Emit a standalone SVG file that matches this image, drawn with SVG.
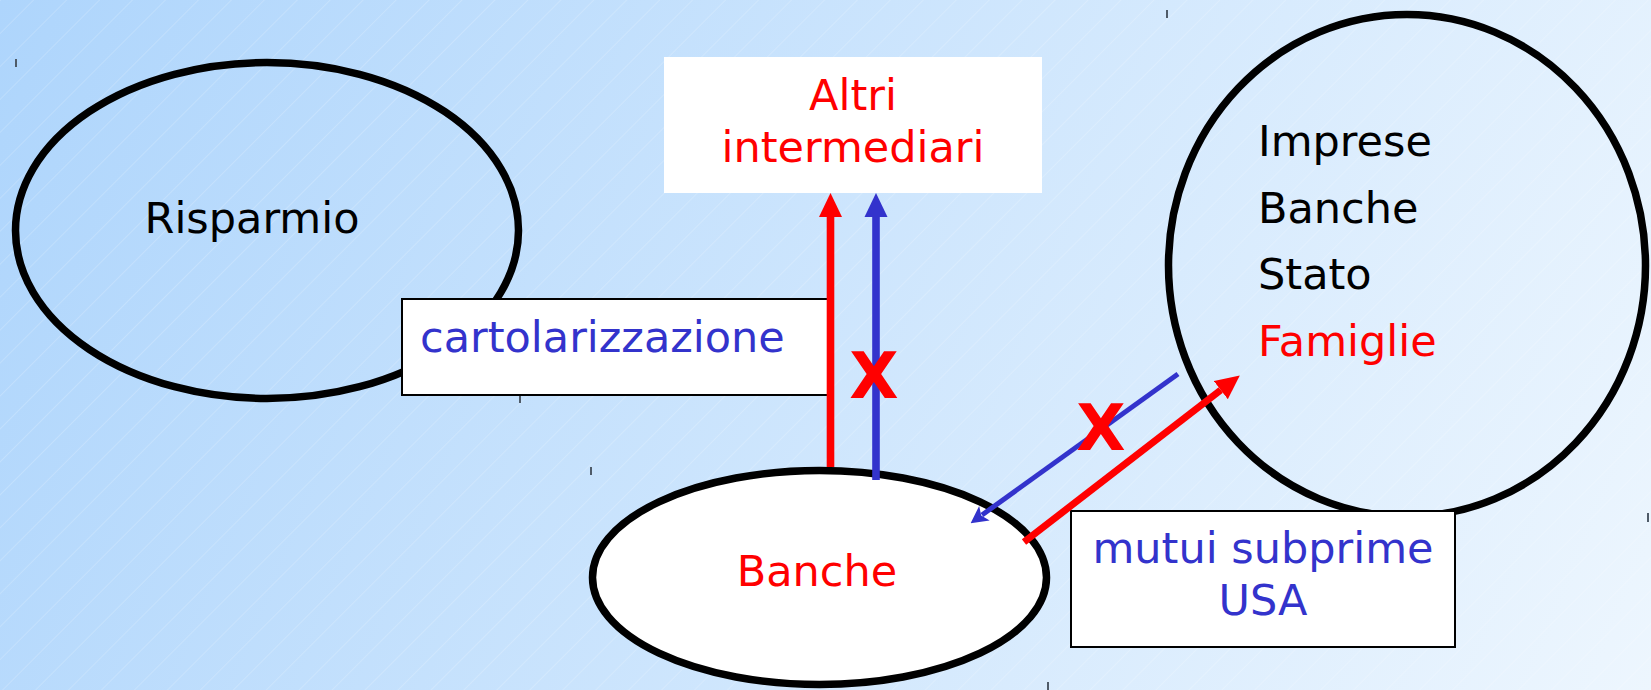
<svg xmlns="http://www.w3.org/2000/svg" width="1651" height="690" viewBox="0 0 1651 690">
  <defs>
    <linearGradient id="bg" gradientUnits="userSpaceOnUse" x1="0" y1="0" x2="1651" y2="690">
      <stop offset="0" stop-color="#aed5fc"/>
      <stop offset="1" stop-color="#edf6fe"/>
    </linearGradient>
    <pattern id="hatch" patternUnits="userSpaceOnUse" width="23.3" height="40" patternTransform="rotate(45)">
      <line x1="0" y1="0" x2="0" y2="40" stroke="#ffffff" stroke-opacity="0.35" stroke-width="1"/>
    </pattern>
    <marker id="ahRed" markerUnits="userSpaceOnUse" markerWidth="24" markerHeight="24" viewBox="0 0 24 24" refX="0" refY="12" orient="auto">
      <path d="M0,0.5 L24,12 L0,23.5 z" fill="#ff0000"/>
    </marker>
    <marker id="ahBlue" markerUnits="userSpaceOnUse" markerWidth="24" markerHeight="24" viewBox="0 0 24 24" refX="0" refY="12" orient="auto">
      <path d="M0,0.5 L24,12 L0,23.5 z" fill="#3333cc"/>
    </marker>
    <marker id="ahBlueS" markerUnits="userSpaceOnUse" markerWidth="17" markerHeight="18" viewBox="0 0 17 18" refX="3" refY="9" orient="auto">
      <path d="M0,0 L17,9 L0,18 L4,9 z" fill="#3333cc"/>
    </marker>
  </defs>
  <style>
    text { font-family: "DejaVu Sans", "Liberation Sans", sans-serif; font-size: 43px; }
    .blk { fill: #000000; }
    .red { fill: #ff0000; }
    .blu { fill: #3333cc; }
    .ell { stroke: #000000; stroke-width: 7.5; }
    .box { fill: #ffffff; stroke: #000000; stroke-width: 2; }
    .x { font-weight: bold; font-size: 64px; fill: #ff0000; text-anchor: middle; }
    .tick { stroke: #4f5b68; stroke-width: 2; }
  </style>

  <rect x="0" y="0" width="1651" height="690" fill="url(#bg)"/>
  <rect x="0" y="0" width="1651" height="690" fill="url(#hatch)"/>

  <g id="ticks">
    <line class="tick" x1="16" y1="59" x2="16" y2="67"/>
    <line class="tick" x1="1167" y1="10" x2="1167" y2="18"/>
    <line class="tick" x1="520" y1="395" x2="520" y2="403"/>
    <line class="tick" x1="591" y1="467" x2="591" y2="475"/>
    <line class="tick" x1="1048" y1="682" x2="1048" y2="690"/>
    <line class="tick" x1="1648" y1="513" x2="1648" y2="522"/>
  </g>

  <g id="risparmio">
    <ellipse class="ell" cx="267" cy="230.5" rx="251.5" ry="168" fill="none"/>
    <text class="blk" x="252" y="233" text-anchor="middle">Risparmio</text>
  </g>

  <g id="cartolarizzazione">
    <rect class="box" x="402" y="299" width="429" height="96"/>
    <text class="blu" x="420" y="352">cartolarizzazione</text>
  </g>

  <g id="altri-intermediari">
    <rect x="664" y="57" width="378" height="136" fill="#ffffff"/>
    <text class="red" x="853" y="110" text-anchor="middle">Altri</text>
    <text class="red" x="853" y="162" text-anchor="middle">intermediari</text>
  </g>

  <g id="settori">
    <ellipse class="ell" cx="1407" cy="265.5" rx="238.5" ry="251" fill="none"/>
    <text class="blk" x="1258" y="156">Imprese</text>
    <text class="blk" x="1258" y="223">Banche</text>
    <text class="blk" x="1258" y="289">Stato</text>
    <text class="red" x="1258" y="356">Famiglie</text>
  </g>

  <g id="banche">
    <ellipse class="ell" cx="819.5" cy="577.5" rx="227" ry="107" fill="#ffffff"/>
    <text class="red" x="817" y="586" text-anchor="middle">Banche</text>
  </g>

  <g id="mutui-subprime">
    <rect class="box" x="1071" y="511" width="384" height="136"/>
    <text class="blu" x="1263" y="563" text-anchor="middle">mutui subprime</text>
    <text class="blu" x="1263" y="615" text-anchor="middle">USA</text>
  </g>

  <g id="connectors">
    <line x1="830.5" y1="467" x2="830.5" y2="217" stroke="#ff0000" stroke-width="7.6" marker-end="url(#ahRed)"/>
    <line x1="876" y1="480" x2="876" y2="217" stroke="#3333cc" stroke-width="7.6" marker-end="url(#ahBlue)"/>
    <line x1="1024" y1="542" x2="1220.8" y2="390.1" stroke="#ff0000" stroke-width="7" marker-end="url(#ahRed)"/>
    <line x1="1178" y1="374" x2="982" y2="515" stroke="#3333cc" stroke-width="5" marker-end="url(#ahBlueS)"/>
  </g>

  <g id="blocks">
    <text class="x" x="874" y="398">X</text>
    <text class="x" x="1101" y="450">X</text>
  </g>
</svg>
